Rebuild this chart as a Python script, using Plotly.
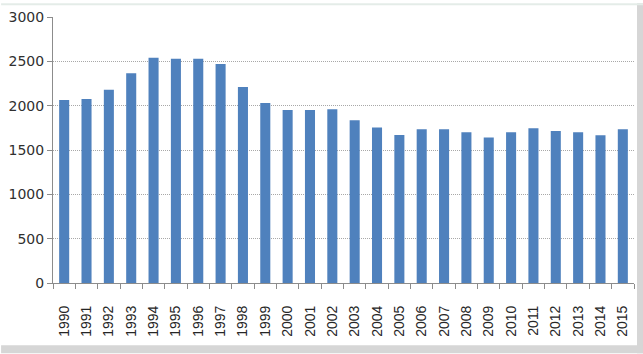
import plotly.graph_objects as go

years = [str(y) for y in range(1990, 2016)]
values = [2065, 2075, 2180, 2365, 2540, 2530, 2530, 2470, 2210, 2030,
          1950, 1950, 1960, 1835, 1755, 1670, 1735, 1735, 1700, 1640,
          1700, 1745, 1715, 1700, 1665, 1735]
y_ticks = [0, 500, 1000, 1500, 2000, 2500, 3000]

L, R, T, B, W, H = 52, 9, 14, 71, 643, 354
pw = W - L - R
ph = H - T - B

def px(x):
    return (x - L) / pw

def py(y):
    return (H - B - y) / ph

fig = go.Figure(go.Bar(x=years, y=values, marker_color="#4F81BD",
                       marker_line_width=0))

fig.update_layout(
    width=W, height=H,
    margin=dict(l=L, r=R, t=T, b=B),
    paper_bgcolor="white", plot_bgcolor="white",
    bargap=0.55, showlegend=False,
    font=dict(family="Liberation Sans", size=13, color="#404040"),
    xaxis=dict(type="category", tickangle=-90, showgrid=False,
               showline=True, linecolor="#8c8c8c", linewidth=1,
               ticks="outside", tickson="boundaries", ticklen=5,
               tickcolor="#8c8c8c", ticklabelstandoff=16,
               tickfont=dict(family="Liberation Sans", size=14, color="#262626")),
    yaxis=dict(range=[0, 3000], tickvals=y_ticks, showgrid=True,
               gridcolor="#a8a8a8", griddash="1px,1px", gridwidth=1,
               showline=True, linecolor="#8c8c8c", linewidth=1,
               ticks="outside", ticklen=5, tickcolor="#8c8c8c",
               zeroline=False,
               tickfont=dict(family="DejaVu Sans", size=14, color="#303030")),
    shapes=[
        dict(type="rect", xref="paper", yref="paper",
             x0=px(637), x1=px(643), y0=py(354), y1=py(0),
             fillcolor="#d6d6d6", line_width=0),
        dict(type="rect", xref="paper", yref="paper",
             x0=px(0), x1=px(643), y0=py(354), y1=py(346),
             fillcolor="#d6d6d6", line_width=0),
        dict(type="rect", xref="paper", yref="paper",
             x0=px(0), x1=px(643), y0=py(2), y1=py(0),
             fillcolor="#e4ece8", line_width=0),
    ],
)

fig.write_html("out.html")
